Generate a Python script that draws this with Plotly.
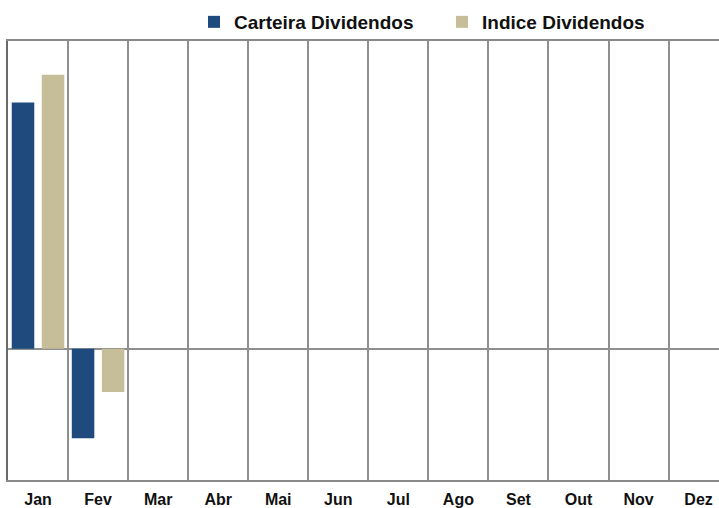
import plotly.graph_objects as go

months = ["Jan", "Fev", "Mar", "Abr", "Mai", "Jun", "Jul", "Ago", "Set", "Out", "Nov", "Dez"]
carteira = [4.0, -1.45, None, None, None, None, None, None, None, None, None, None]
indice = [4.45, -0.70, None, None, None, None, None, None, None, None, None, None]

x_pos = list(range(len(months)))
boundaries = [i - 0.5 for i in range(len(months) + 1)]

FONT = "Liberation Sans, Arial, sans-serif"

fig = go.Figure()
fig.add_trace(go.Bar(x=x_pos, y=carteira, name="Carteira Dividendos",
                     marker=dict(color="#1F4A7D", line=dict(width=0))))
fig.add_trace(go.Bar(x=x_pos, y=indice, name="Indice Dividendos",
                     marker=dict(color="#C6BE98", line=dict(width=0))))

fig.update_layout(
    width=719, height=508,
    margin=dict(l=8, r=0, t=41, b=28, autoexpand=False),
    paper_bgcolor="white", plot_bgcolor="white",
    barmode="group", bargap=0.0, bargroupgap=0.25,
    font=dict(family=FONT, size=15, color="#111111"),
    showlegend=True,
    legend=dict(orientation="h", x=0.2616, xanchor="left", y=1.0, yanchor="bottom",
                font=dict(size=19, color="#111111", family=FONT, weight="bold"),
                itemwidth=30, entrywidth=203, bgcolor="rgba(0,0,0,0)"),
    xaxis=dict(
        range=[-0.5, -0.5 + 711 / 60.05],
        automargin=False,
        tickmode="array", tickvals=x_pos, ticktext=months,
        tickfont=dict(size=16, color="#111111", weight="bold"),
        ticklabelstandoff=4,
        showgrid=False, zeroline=False,
        showline=True, linecolor="#8a8a8a", linewidth=2, mirror=True,
        ticks="",
        minor=dict(tickmode="array", tickvals=boundaries, showgrid=True,
                   gridcolor="#8f8f8f", gridwidth=2, ticks=""),
    ),
    yaxis=dict(
        range=[-2.13, 5.0],
        automargin=False,
        showticklabels=False, showgrid=False,
        zeroline=True, zerolinecolor="#8f8f8f", zerolinewidth=2,
        showline=True, linecolor="#6a6a6a", linewidth=2, mirror=False,
        ticks="",
    ),
)

fig.write_html("out.html", config={"displayModeBar": False})

with open("out.html", "r", encoding="utf-8") as f:
    html = f.read()
html = html.replace("<head>", "<head><style>html,body{margin:0;padding:0;overflow:hidden;}</style>", 1)
with open("out.html", "w", encoding="utf-8") as f:
    f.write(html)
